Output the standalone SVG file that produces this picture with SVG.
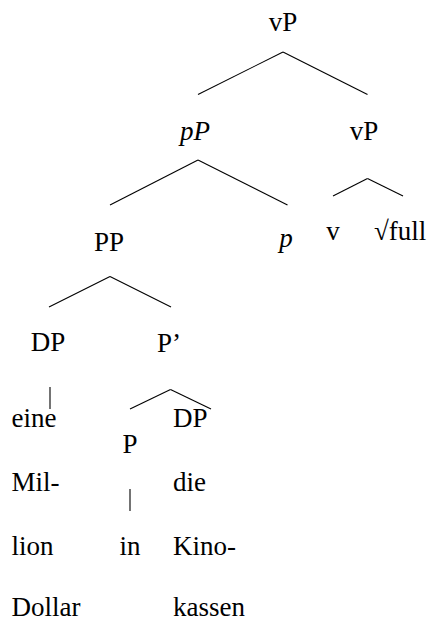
<svg xmlns="http://www.w3.org/2000/svg" width="433" height="621" viewBox="0 0 433 621" font-family="'Liberation Serif', 'DejaVu Serif', serif">
<style>
.t{font-family:'Liberation Serif','DejaVu Serif',serif;font-size:27px;fill:#000}
.m{text-anchor:middle}
.i{font-style:italic}
#edges line{stroke:#000;stroke-width:1.1;fill:none}
</style>
<rect width="433" height="621" fill="#fff"/>
<g id="edges">
<line x1="283" y1="52" x2="198" y2="94.5"/>
<line x1="283" y1="52" x2="367.5" y2="94.5"/>
<line x1="198" y1="160" x2="110" y2="205"/>
<line x1="198" y1="160" x2="287.5" y2="205"/>
<line x1="367.5" y1="178.5" x2="333" y2="196"/>
<line x1="367.5" y1="178.5" x2="403" y2="196"/>
<line x1="110" y1="276.5" x2="49" y2="307"/>
<line x1="110" y1="276.5" x2="171" y2="307"/>
<line x1="50" y1="387" x2="50" y2="409"/>
<line x1="170.5" y1="389.5" x2="130" y2="409"/>
<line x1="170.5" y1="389.5" x2="211" y2="409"/>
<line x1="130" y1="489" x2="130" y2="511"/>
</g>
<g class="t" font-family="Liberation Serif">
<g id="n-vP-top"><text class="m" x="283" y="31">vP</text></g>
<g id="n-pP"><text class="m i" x="195" y="140">pP</text></g>
<g id="n-vP"><text class="m" x="364" y="140">vP</text></g>
<g id="n-PP"><text class="m" x="109" y="251">PP</text></g>
<g id="n-p"><text class="m i" x="286" y="247">p</text></g>
<g id="n-v"><text class="m" x="333" y="240">v</text></g>
<g id="n-full"><text x="374" y="240">√full</text></g>
<g id="n-DP1"><text class="m" x="48" y="351">DP</text></g>
<g id="n-P1"><text class="m" x="169" y="352">P’</text></g>
<g id="n-DP1-words">
<text x="11.5" y="427">eine</text>
<text x="11.5" y="491">Mil-</text>
<text x="11.5" y="555">lion</text>
<text x="11.5" y="616">Dollar</text>
</g>
<g id="n-P"><text class="m" x="130" y="453">P</text></g>
<g id="n-in"><text class="m" x="130" y="555">in</text></g>
<g id="n-DP2"><text x="173" y="427">DP</text></g>
<g id="n-DP2-words">
<text x="173" y="491">die</text>
<text x="173" y="555">Kino-</text>
<text x="173" y="616">kassen</text>
</g>
</g>
</svg>
